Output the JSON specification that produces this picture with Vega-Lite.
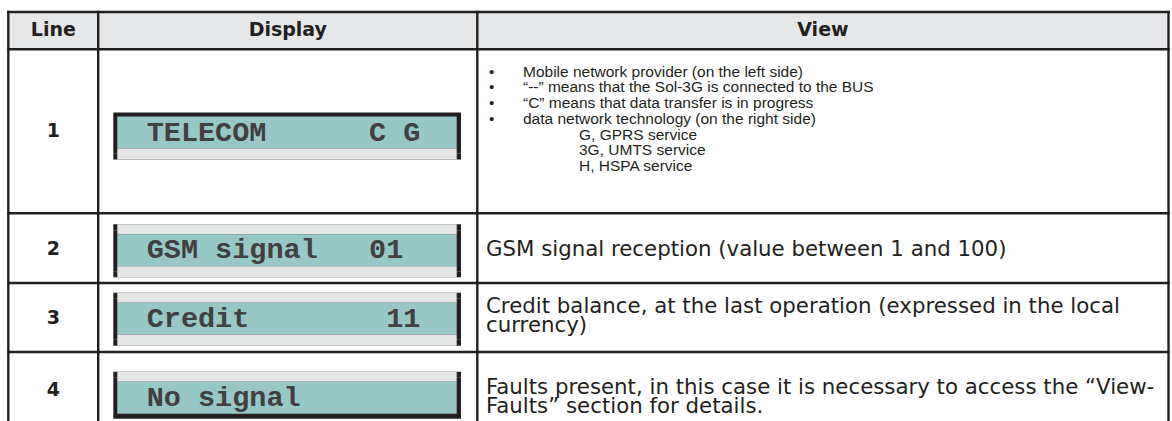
{
  "$schema": "https://vega.github.io/schema/vega-lite/v6.json",
  "width": 1172,
  "height": 421,
  "padding": 0,
  "autosize": {"type": "none"},
  "background": "white",
  "config": {"view": {"stroke": null}},
  "datasets": {
    "header": [
      {"col": 0, "label": "Line"},
      {"col": 1, "label": "Display"},
      {"col": 2, "label": "View"}
    ],
    "rows": [
      {"Line": 1, "Display": "TELECOM\u00a0\u00a0\u00a0\u00a0\u00a0\u00a0C\u00a0G", "View": "Mobile network provider (on the left side)\n“--” means that the Sol-3G is connected to the BUS\n“C” means that data transfer is in progress\ndata network technology (on the right side)", "Sub": "G, GPRS service\n3G, UMTS service\nH, HSPA service"},
      {"Line": 2, "Display": "GSM signal\u00a0\u00a0\u00a001", "View": "GSM signal reception (value between 1 and 100)", "Sub": ""},
      {"Line": 3, "Display": "Credit\u00a0\u00a0\u00a0\u00a0\u00a0\u00a0\u00a0\u00a011", "View": "Credit balance, at the last operation (expressed in the local\ncurrency)", "Sub": ""},
      {"Line": 4, "Display": "No signal", "View": "Faults present, in this case it is necessary to access the “View-\nFaults” section for details.", "Sub": ""}
    ]
  },
  "resolve": {"scale": {"x": "independent", "y": "independent"}},
  "layer": [
    {
      "data": {"name": "header"},
      "transform": [{"aggregate": [{"op": "count", "as": "n"}]}],
      "mark": {"type": "rect", "fill": "#e6e7e8"},
      "encoding": {
        "x": {"datum": 0, "type": "quantitative", "axis": null, "scale": {"type": "linear", "domain": [0, 1, 2, 3], "range": [8.3, 98.2, 477.3, 1168.5], "nice": false, "zero": false}},
        "x2": {"datum": 3},
        "y": {"datum": 0, "type": "quantitative", "axis": null, "scale": {"type": "linear", "domain": [0, 1, 2, 3, 4, 5], "range": [12, 49.3, 213.3, 283, 352, 443], "nice": false, "zero": false}},
        "y2": {"datum": 1}
      }
    },
    {
      "data": {"name": "rows"},
      "mark": {"type": "rect", "fill": "#231f20", "xOffset": 15.1, "x2Offset": -16.3, "yOffset": -20, "y2Offset": 21},
      "encoding": {
        "x": {"datum": 1, "type": "quantitative", "axis": null, "scale": {"type": "linear", "domain": [0, 1, 2, 3], "range": [8.3, 98.2, 477.3, 1168.5], "nice": false, "zero": false}},
        "x2": {"datum": 2},
        "y": {"field": "Line", "type": "quantitative", "axis": null, "scale": {"type": "linear", "domain": [1, 2, 3, 4], "range": [132.5, 250.3, 318.8, 397.7], "nice": false, "zero": false}},
        "y2": {"field": "Line"}
      }
    },
    {
      "data": {"name": "rows"},
      "transform": [{"filter": "datum.Line != 1"}],
      "mark": {"type": "rect", "fill": "#231f20", "xOffset": 15.1, "x2Offset": -16.3, "yOffset": -26, "y2Offset": -20},
      "encoding": {
        "x": {"datum": 1, "type": "quantitative", "axis": null, "scale": {"type": "linear", "domain": [0, 1, 2, 3], "range": [8.3, 98.2, 477.3, 1168.5], "nice": false, "zero": false}},
        "x2": {"datum": 2},
        "y": {"field": "Line", "type": "quantitative", "axis": null, "scale": {"type": "linear", "domain": [1, 2, 3, 4], "range": [132.5, 250.3, 318.8, 397.7], "nice": false, "zero": false}},
        "y2": {"field": "Line"}
      }
    },
    {
      "data": {"name": "rows"},
      "transform": [{"filter": "datum.Line != 4"}],
      "mark": {"type": "rect", "fill": "#231f20", "xOffset": 15.1, "x2Offset": -16.3, "yOffset": 21, "y2Offset": 27},
      "encoding": {
        "x": {"datum": 1, "type": "quantitative", "axis": null, "scale": {"type": "linear", "domain": [0, 1, 2, 3], "range": [8.3, 98.2, 477.3, 1168.5], "nice": false, "zero": false}},
        "x2": {"datum": 2},
        "y": {"field": "Line", "type": "quantitative", "axis": null, "scale": {"type": "linear", "domain": [1, 2, 3, 4], "range": [132.5, 250.3, 318.8, 397.7], "nice": false, "zero": false}},
        "y2": {"field": "Line"}
      }
    },
    {
      "data": {"name": "rows"},
      "transform": [{"filter": "datum.Line != 1"}],
      "mark": {"type": "rect", "fill": "#e5e6e6", "xOffset": 19.1, "x2Offset": -20.6, "yOffset": -26, "y2Offset": -16},
      "encoding": {
        "x": {"datum": 1, "type": "quantitative", "axis": null, "scale": {"type": "linear", "domain": [0, 1, 2, 3], "range": [8.3, 98.2, 477.3, 1168.5], "nice": false, "zero": false}},
        "x2": {"datum": 2},
        "y": {"field": "Line", "type": "quantitative", "axis": null, "scale": {"type": "linear", "domain": [1, 2, 3, 4], "range": [132.5, 250.3, 318.8, 397.7], "nice": false, "zero": false}},
        "y2": {"field": "Line"}
      }
    },
    {
      "data": {"name": "rows"},
      "mark": {"type": "rect", "fill": "#97c8c6", "xOffset": 19.1, "x2Offset": -20.6, "yOffset": -16, "y2Offset": 16},
      "encoding": {
        "x": {"datum": 1, "type": "quantitative", "axis": null, "scale": {"type": "linear", "domain": [0, 1, 2, 3], "range": [8.3, 98.2, 477.3, 1168.5], "nice": false, "zero": false}},
        "x2": {"datum": 2},
        "y": {"field": "Line", "type": "quantitative", "axis": null, "scale": {"type": "linear", "domain": [1, 2, 3, 4], "range": [132.5, 250.3, 318.8, 397.7], "nice": false, "zero": false}},
        "y2": {"field": "Line"}
      }
    },
    {
      "data": {"name": "rows"},
      "transform": [{"filter": "datum.Line != 4"}],
      "mark": {"type": "rect", "fill": "#e5e6e6", "xOffset": 19.1, "x2Offset": -20.6, "yOffset": 16, "y2Offset": 27},
      "encoding": {
        "x": {"datum": 1, "type": "quantitative", "axis": null, "scale": {"type": "linear", "domain": [0, 1, 2, 3], "range": [8.3, 98.2, 477.3, 1168.5], "nice": false, "zero": false}},
        "x2": {"datum": 2},
        "y": {"field": "Line", "type": "quantitative", "axis": null, "scale": {"type": "linear", "domain": [1, 2, 3, 4], "range": [132.5, 250.3, 318.8, 397.7], "nice": false, "zero": false}},
        "y2": {"field": "Line"}
      }
    },
    {
      "data": {"name": "rows"},
      "mark": {"type": "text", "font": "Liberation Mono", "fontWeight": "bold", "fontSize": 28.5, "align": "left", "baseline": "middle", "dx": 48.5, "dy": -1, "fill": "#404040"},
      "encoding": {
        "x": {"datum": 1, "type": "quantitative", "axis": null, "scale": {"type": "linear", "domain": [0, 1, 2, 3], "range": [8.3, 98.2, 477.3, 1168.5], "nice": false, "zero": false}},
        "y": {"field": "Line", "type": "quantitative", "axis": null, "scale": {"type": "linear", "domain": [1, 2, 3, 4], "range": [132.5, 250.3, 318.8, 397.7], "nice": false, "zero": false}},
        "text": {"field": "Display", "type": "nominal"}
      }
    },
    {
      "data": {"name": "rows"},
      "mark": {"type": "rule", "stroke": "#231f20", "strokeWidth": 2.4, "strokeCap": "square"},
      "encoding": {
        "x": {"datum": 0, "type": "quantitative", "axis": null, "scale": {"type": "linear", "domain": [0, 1, 2, 3], "range": [8.3, 98.2, 477.3, 1168.5], "nice": false, "zero": false}},
        "x2": {"datum": 3},
        "y": {"field": "Line", "type": "quantitative", "axis": null, "scale": {"type": "linear", "domain": [0, 1, 2, 3, 4, 5], "range": [12, 49.3, 213.3, 283, 352, 443], "nice": false, "zero": false}}
      }
    },
    {
      "data": {"name": "header"},
      "transform": [{"aggregate": [{"op": "count", "as": "n"}]}],
      "mark": {"type": "rule", "stroke": "#231f20", "strokeWidth": 2.4, "strokeCap": "square"},
      "encoding": {
        "x": {"datum": 0, "type": "quantitative", "axis": null, "scale": {"type": "linear", "domain": [0, 1, 2, 3], "range": [8.3, 98.2, 477.3, 1168.5], "nice": false, "zero": false}},
        "x2": {"datum": 3},
        "y": {"datum": 0, "type": "quantitative", "axis": null, "scale": {"type": "linear", "domain": [0, 1, 2, 3, 4, 5], "range": [12, 49.3, 213.3, 283, 352, 443], "nice": false, "zero": false}}
      }
    },
    {
      "data": {"name": "header"},
      "mark": {"type": "rule", "stroke": "#231f20", "strokeWidth": 2.4, "strokeCap": "square"},
      "encoding": {
        "x": {"field": "col", "type": "quantitative", "axis": null, "scale": {"type": "linear", "domain": [0, 1, 2, 3], "range": [8.3, 98.2, 477.3, 1168.5], "nice": false, "zero": false}},
        "y": {"datum": 0, "type": "quantitative", "axis": null, "scale": {"type": "linear", "domain": [0, 1, 2, 3, 4, 5], "range": [12, 49.3, 213.3, 283, 352, 443], "nice": false, "zero": false}},
        "y2": {"datum": 5}
      }
    },
    {
      "data": {"name": "header"},
      "transform": [{"aggregate": [{"op": "count", "as": "n"}]}],
      "mark": {"type": "rule", "stroke": "#231f20", "strokeWidth": 2.4, "strokeCap": "square"},
      "encoding": {
        "x": {"datum": 3, "type": "quantitative", "axis": null, "scale": {"type": "linear", "domain": [0, 1, 2, 3], "range": [8.3, 98.2, 477.3, 1168.5], "nice": false, "zero": false}},
        "y": {"datum": 0, "type": "quantitative", "axis": null, "scale": {"type": "linear", "domain": [0, 1, 2, 3, 4, 5], "range": [12, 49.3, 213.3, 283, 352, 443], "nice": false, "zero": false}},
        "y2": {"datum": 5}
      }
    },
    {
      "data": {"name": "header"},
      "mark": {"type": "text", "font": "DejaVu Sans", "fontWeight": "bold", "fontSize": 19, "align": "center", "baseline": "alphabetic", "fill": "#231f20"},
      "encoding": {
        "x": {"field": "col", "type": "quantitative", "axis": null, "scale": {"type": "linear", "domain": [0, 1, 2], "range": [53.3, 287.8, 822.9], "nice": false, "zero": false}},
        "y": {"datum": 0, "type": "quantitative", "axis": null, "scale": {"type": "linear", "domain": [0, 1, 2, 3, 4], "range": [35.5, 137.3, 255, 324, 395.7], "nice": false, "zero": false}},
        "text": {"field": "label", "type": "nominal"}
      }
    },
    {
      "data": {"name": "rows"},
      "mark": {"type": "text", "font": "DejaVu Sans", "fontWeight": "bold", "fontSize": 19, "align": "center", "baseline": "alphabetic", "fill": "#231f20"},
      "encoding": {
        "x": {"datum": 0, "type": "quantitative", "axis": null, "scale": {"type": "linear", "domain": [0, 1, 2], "range": [53.3, 287.8, 822.9], "nice": false, "zero": false}},
        "y": {"field": "Line", "type": "quantitative", "axis": null, "scale": {"type": "linear", "domain": [0, 1, 2, 3, 4], "range": [35.5, 137.3, 255, 324, 395.7], "nice": false, "zero": false}},
        "text": {"field": "Line", "type": "nominal"}
      }
    },
    {
      "data": {"name": "rows"},
      "transform": [{"filter": "datum.Line == 1"}],
      "mark": {"type": "text", "text": "•\n•\n•\n•", "lineBreak": "\n", "lineHeight": 15.7, "font": "Liberation Sans", "fontSize": 15, "align": "center", "baseline": "alphabetic", "dx": 14.2, "fill": "#231f20"},
      "encoding": {
        "x": {"datum": 2, "type": "quantitative", "axis": null, "scale": {"type": "linear", "domain": [0, 1, 2, 3], "range": [8.3, 98.2, 477.3, 1168.5], "nice": false, "zero": false}},
        "y": {"field": "Line", "type": "quantitative", "axis": null, "scale": {"type": "linear", "domain": [1, 2, 3, 4], "range": [76.7, 256.4, 313.3, 394.3], "nice": false, "zero": false}}
      }
    },
    {
      "data": {"name": "rows"},
      "transform": [{"filter": "datum.Line == 1"}],
      "mark": {"type": "text", "lineBreak": "\n", "lineHeight": 15.7, "font": "Liberation Sans", "fontSize": 15.5, "align": "left", "baseline": "alphabetic", "dx": 45.7, "fill": "#231f20"},
      "encoding": {
        "x": {"datum": 2, "type": "quantitative", "axis": null, "scale": {"type": "linear", "domain": [0, 1, 2, 3], "range": [8.3, 98.2, 477.3, 1168.5], "nice": false, "zero": false}},
        "y": {"field": "Line", "type": "quantitative", "axis": null, "scale": {"type": "linear", "domain": [1, 2, 3, 4], "range": [76.7, 256.4, 313.3, 394.3], "nice": false, "zero": false}},
        "text": {"field": "View", "type": "nominal"}
      }
    },
    {
      "data": {"name": "rows"},
      "transform": [{"filter": "datum.Line == 1"}],
      "mark": {"type": "text", "lineBreak": "\n", "lineHeight": 15.7, "font": "Liberation Sans", "fontSize": 15.5, "align": "left", "baseline": "alphabetic", "dx": 101.7, "dy": 62.8, "fill": "#231f20"},
      "encoding": {
        "x": {"datum": 2, "type": "quantitative", "axis": null, "scale": {"type": "linear", "domain": [0, 1, 2, 3], "range": [8.3, 98.2, 477.3, 1168.5], "nice": false, "zero": false}},
        "y": {"field": "Line", "type": "quantitative", "axis": null, "scale": {"type": "linear", "domain": [1, 2, 3, 4], "range": [76.7, 256.4, 313.3, 394.3], "nice": false, "zero": false}},
        "text": {"field": "Sub", "type": "nominal"}
      }
    },
    {
      "data": {"name": "rows"},
      "transform": [{"filter": "datum.Line != 1"}],
      "mark": {"type": "text", "lineBreak": "\n", "lineHeight": 18.6, "font": "DejaVu Sans", "fontSize": 21.3, "align": "left", "baseline": "alphabetic", "dx": 8.7, "fill": "#231f20"},
      "encoding": {
        "x": {"datum": 2, "type": "quantitative", "axis": null, "scale": {"type": "linear", "domain": [0, 1, 2, 3], "range": [8.3, 98.2, 477.3, 1168.5], "nice": false, "zero": false}},
        "y": {"field": "Line", "type": "quantitative", "axis": null, "scale": {"type": "linear", "domain": [1, 2, 3, 4], "range": [76.7, 256.4, 313.3, 394.3], "nice": false, "zero": false}},
        "text": {"field": "View", "type": "nominal"}
      }
    }
  ]
}
